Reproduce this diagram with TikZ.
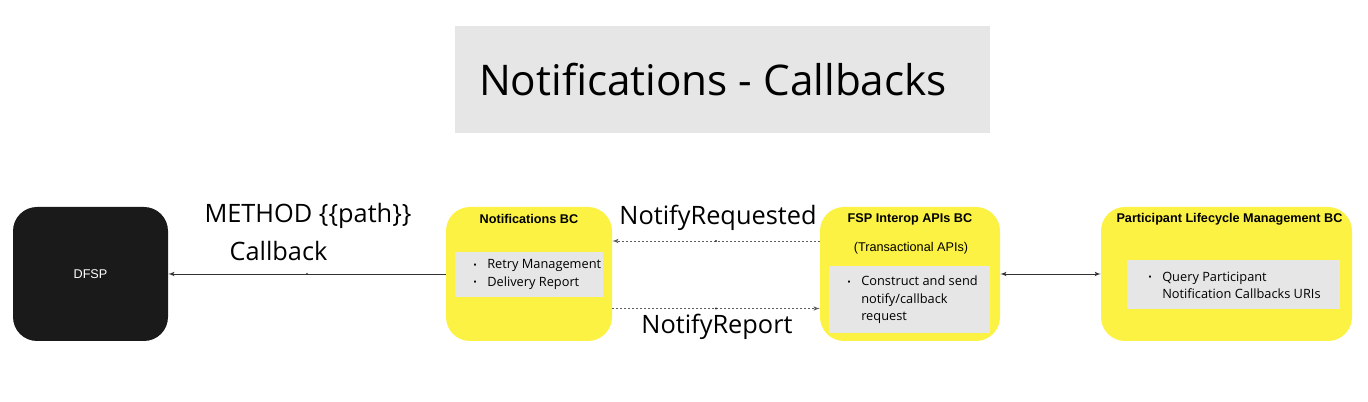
\documentclass[tikz,border=0pt]{standalone}
\usepackage{fontspec}
\setmainfont{Open Sans}
\newfontfamily\arialfont{Liberation Sans}
\usepackage{xcolor}
\usetikzlibrary{arrows,calc}
\definecolor{bcyellow}{HTML}{FCF243}
\definecolor{boxgray}{HTML}{E6E6E6}
\definecolor{dfspblack}{HTML}{1A1A1A}
\definecolor{linegray}{HTML}{333333}
\tikzset{bcbox/.style={fill=bcyellow,rounded corners=18pt,minimum height=100.5pt,inner sep=0pt},
  itembox/.style={fill=boxgray,inner sep=0pt},
  bctitle/.style={font=\arialfont\bfseries\fontsize{9.5}{11}\selectfont,inner sep=0pt},
  itemtext/.style={font=\fontsize{9.6}{13}\selectfont,align=left,inner sep=0pt,anchor=west},
  flowlabel/.style={font=\fontsize{19}{23}\selectfont,inner sep=0pt},
  dotmid/.style={midway,circle,fill=linegray,inner sep=0pt,minimum size=1.6pt},
  flow/.style={draw=linegray,line width=0.6pt},
  dashflow/.style={draw=linegray!80,line width=0.6pt,dash pattern=on 1.5pt off 1.5pt},
  >=latex'}
\newcommand{\blt}{\makebox[10.5pt][l]{\fontsize{7}{7}\selectfont\raisebox{0.4pt}{•}}}
\newcommand{\hng}{\hspace*{10.5pt}}
\newcommand{\nbox}[4][]{\node[#1] (#2) at (#3) {#4};}

\begin{document}
\begin{tikzpicture}[x=0.75pt,y=-0.75pt]
    \useasboundingbox (0,0) rectangle (1368,402);

    % title
    \nbox[fill=boxgray,minimum width=401.25pt,minimum height=80.25pt]{title}{722.5,79.5}{}
    \node[anchor=west,inner sep=0pt,font=\fontsize{31.7}{38}\selectfont] (titletext) at ($(title.west)+(24,0)$) {Notifications - Callbacks};

    % bounded contexts
    \nbox[bcbox,fill=dfspblack,minimum width=116.25pt,text=white,font=\arialfont\fontsize{9.5}{11}\selectfont]{dfsp}{90.5,274}{DFSP}
    \nbox[bcbox,minimum width=124.5pt]{notif}{529,274}{}
    \nbox[bcbox,minimum width=135pt]{fsp}{910,274}{}
    \nbox[bcbox,minimum width=188.25pt]{part}{1226.5,274}{}

    \nbox[bctitle]{notiftitle}{529,219}{Notifications BC}
    \nbox[bctitle]{fsptitle}{910,219}{FSP Interop APIs BC}
    \nbox[bctitle,font=\arialfont\fontsize{9.5}{11}\selectfont]{fspsub}{911,248}{(Transactional APIs)}
    \nbox[bctitle]{parttitle}{1229.5,219}{Participant Lifecycle Management BC}

    % item lists
    \nbox[itembox,minimum width=111pt,minimum height=33.75pt]{notifitems}{529,274.5}{}
    \nbox[itemtext]{notiflist}{473,274.5}{\blt Retry Management\\\blt Delivery Report}
    \nbox[itembox,minimum width=120.75pt,minimum height=50.25pt]{fspitems}{909.5,299.5}{}
    \nbox[itemtext]{fsplist}{847,300}{\blt Construct and send\\\hng notify/callback\\\hng request}
    \nbox[itembox,minimum width=159.75pt,minimum height=36.75pt]{partitems}{1233.5,284.5}{}
    \nbox[itemtext]{partlist}{1148,285.5}{\blt Query Participant\\\hng Notification Callbacks URIs}

    % connectors
    \draw[flow,->] (notif.west) -- (dfsp.east) node[dotmid] {};
    \draw[dashflow,->] ($(fsp.west)+(0,-33)$) -- ($(notif.east)+(0,-33)$) node[dotmid] {};
    \draw[dashflow,->] ($(notif.east)+(0,34.5)$) -- ($(fsp.west)+(0,34.5)$) node[dotmid] {};
    \draw[flow,<->] (fsp.east) -- (part.west);

    \nbox[flowlabel]{methodlbl}{308,216}{METHOD \{\{path\}\}}
    \nbox[flowlabel]{callbacklbl}{278.5,251}{Callback}
    \nbox[flowlabel]{reqlbl}{718,218}{NotifyRequested}
    \nbox[flowlabel]{replbl}{717,327}{NotifyReport}

\end{tikzpicture}
\end{document}
